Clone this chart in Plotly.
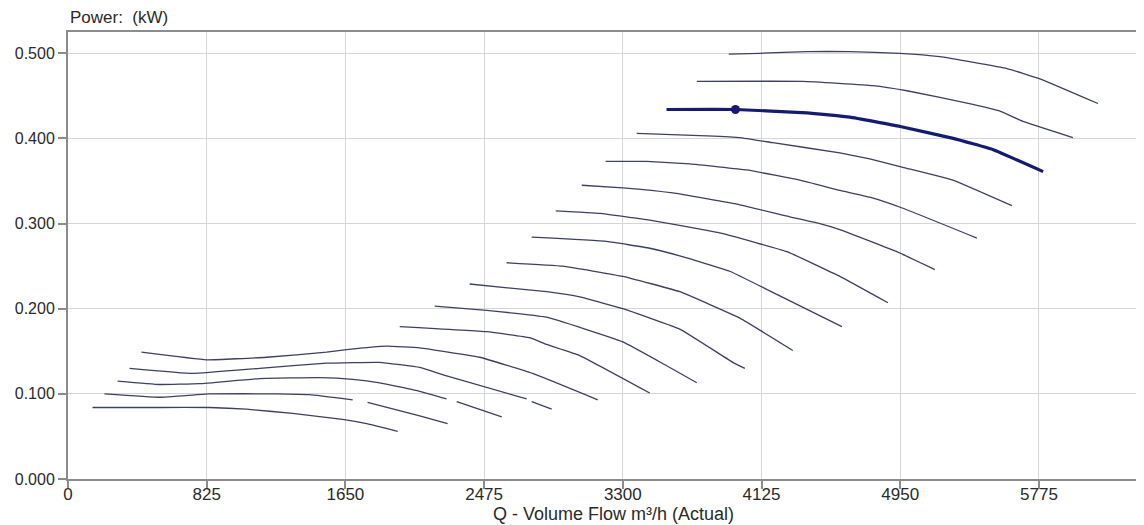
import plotly.graph_objects as go

# ---- data (Q in m3/h, power in kW) ----
x_ticks = [0, 825, 1650, 2475, 3300, 4125, 4950, 5775]
y_ticks = [0.0, 0.1, 0.2, 0.3, 0.4, 0.5]

c1_x = [3930, 4115, 4395, 4650, 4948, 5186, 5585, 5781, 6126]
c1_y = [0.499, 0.500, 0.502, 0.502, 0.500, 0.496, 0.482, 0.470, 0.441]

c2_x = [3740, 4371, 4787, 4990, 5382, 5543, 5680, 5977]
c2_y = [0.467, 0.467, 0.462, 0.456, 0.440, 0.432, 0.420, 0.401]

sel_x = [3560, 3970, 4395, 4650, 4950, 5265, 5500, 5800]
sel_y = [0.434, 0.434, 0.430, 0.425, 0.414, 0.400, 0.387, 0.361]
op_x = [3970]
op_y = [0.434]

c4_x = [3383, 3800, 3996, 4192, 4591, 4769, 4966, 5263, 5614]
c4_y = [0.406, 0.403, 0.401, 0.395, 0.383, 0.376, 0.366, 0.351, 0.321]

c5_x = [3198, 3442, 3698, 4037, 4353, 4591, 4769, 4966, 5406]
c5_y = [0.373, 0.373, 0.370, 0.363, 0.351, 0.339, 0.331, 0.318, 0.283]

c6_x = [3056, 3300, 3597, 3996, 4293, 4472, 4591, 4930, 5156]
c6_y = [0.345, 0.342, 0.336, 0.322, 0.308, 0.300, 0.293, 0.267, 0.246]

c7_x = [2901, 3163, 3460, 3800, 3919, 4276, 4591, 4877]
c7_y = [0.315, 0.312, 0.304, 0.292, 0.287, 0.267, 0.238, 0.207]

c8_x = [2758, 3204, 3460, 3639, 3936, 4234, 4603]
c8_y = [0.284, 0.279, 0.271, 0.262, 0.244, 0.215, 0.179]

c9_x = [2609, 2943, 3300, 3639, 3996, 4311]
c9_y = [0.254, 0.250, 0.238, 0.220, 0.189, 0.151]

c10_x = [2389, 2847, 3044, 3300, 3639, 3954, 4026]
c10_y = [0.229, 0.220, 0.214, 0.200, 0.176, 0.137, 0.130]

c11_x = [2181, 2490, 2847, 3300, 3561, 3740]
c11_y = [0.203, 0.198, 0.190, 0.161, 0.133, 0.113]

c12_x = [1973, 2490, 2746, 2847, 3044, 3460]
c12_y = [0.179, 0.173, 0.166, 0.158, 0.145, 0.101]

c13_x = [437, 824, 1181, 1538, 1657, 1895, 2092, 2449, 2764, 3151]
c13_y = [0.149, 0.140, 0.143, 0.149, 0.152, 0.156, 0.154, 0.143, 0.124, 0.093]

c14_x = [366, 741, 1140, 1538, 1854, 2092, 2252, 2728, None, 2758, 2877]
c14_y = [0.130, 0.124, 0.130, 0.136, 0.137, 0.131, 0.121, 0.094, None, 0.091, 0.082]

c15_x = [295, 544, 783, 1140, 1497, 1693, 1854, 2092, 2252, None, 2312, 2580]
c15_y = [0.115, 0.111, 0.112, 0.118, 0.119, 0.117, 0.113, 0.103, 0.094, None, 0.091, 0.073]

c16_x = [217, 544, 842, 1241, 1437, 1693, None, 1782, 2092, 2258]
c16_y = [0.100, 0.096, 0.100, 0.100, 0.099, 0.093, None, 0.090, 0.074, 0.065]

c17_x = [146, 544, 842, 1062, 1336, 1633, 1776, 1961]
c17_y = [0.084, 0.084, 0.084, 0.082, 0.077, 0.070, 0.065, 0.056]

thin_curves = [
    (c1_x, c1_y), (c2_x, c2_y), (c4_x, c4_y), (c5_x, c5_y), (c6_x, c6_y),
    (c7_x, c7_y), (c8_x, c8_y), (c9_x, c9_y), (c10_x, c10_y), (c11_x, c11_y),
    (c12_x, c12_y), (c13_x, c13_y), (c14_x, c14_y), (c15_x, c15_y),
    (c16_x, c16_y), (c17_x, c17_y),
]

fig = go.Figure()
for xs, ys in thin_curves:
    fig.add_trace(go.Scatter(
        x=xs, y=ys, mode="lines", connectgaps=False,
        line=dict(color="#3d4160", width=1.3, shape="spline", smoothing=0.3),
        showlegend=False, hoverinfo="skip"))

fig.add_trace(go.Scatter(
    x=sel_x, y=sel_y, mode="lines",
    line=dict(color="#141a78", width=3.2, shape="spline", smoothing=0.3),
    showlegend=False))
fig.add_trace(go.Scatter(
    x=op_x, y=op_y, mode="markers",
    marker=dict(color="#141a78", size=9),
    showlegend=False))

font_main = "Liberation Sans, Arial, sans-serif"

# page body has an 8px margin: figure spans x 8..1144, y 8..525
fig.update_layout(
    width=1136, height=517,
    margin=dict(l=60, r=0, t=24, b=46),
    paper_bgcolor="white", plot_bgcolor="white",
    font=dict(family=font_main, size=16, color="#2a2a2a"),
    xaxis=dict(
        range=[0, 6400], tickvals=x_ticks, ticktext=[str(v) for v in x_ticks],
        showgrid=True, gridcolor="#d6d6d6", gridwidth=1,
        showline=True, linecolor="#8c8c8c", linewidth=2, mirror=True,
        ticks="outside", ticklen=8, tickcolor="#8c8c8c", tickwidth=1.5,
        tickfont=dict(size=17, family=font_main, color="#2a2a2a"),
        ticklabelstandoff=-9,
        zeroline=False,
    ),
    yaxis=dict(
        range=[0, 0.525], tickvals=y_ticks, tickformat=".3f",
        showgrid=True, gridcolor="#d6d6d6", gridwidth=1,
        showline=True, linecolor="#8c8c8c", linewidth=2,
        ticks="outside", ticklen=8, tickcolor="#8c8c8c", tickwidth=1.5,
        tickfont=dict(size=16, family=font_main, color="#2a2a2a"),
        zeroline=False,
    ),
    annotations=[
        dict(text="Power:  (kW)", xref="paper", yref="paper", x=0, y=1,
             xanchor="left", yanchor="bottom", xshift=0, yshift=3,
             showarrow=False, font=dict(size=17, color="#2a2a2a")),
        dict(text="Q - Volume Flow m\u00b3/h (Actual)", xref="paper", yref="paper",
             x=(613 - 68) / (1144 - 68), y=0, xanchor="center", yanchor="top",
             yshift=-23, showarrow=False, font=dict(size=18, color="#2a2a2a")),
    ],
)

fig.write_html("out.html")
